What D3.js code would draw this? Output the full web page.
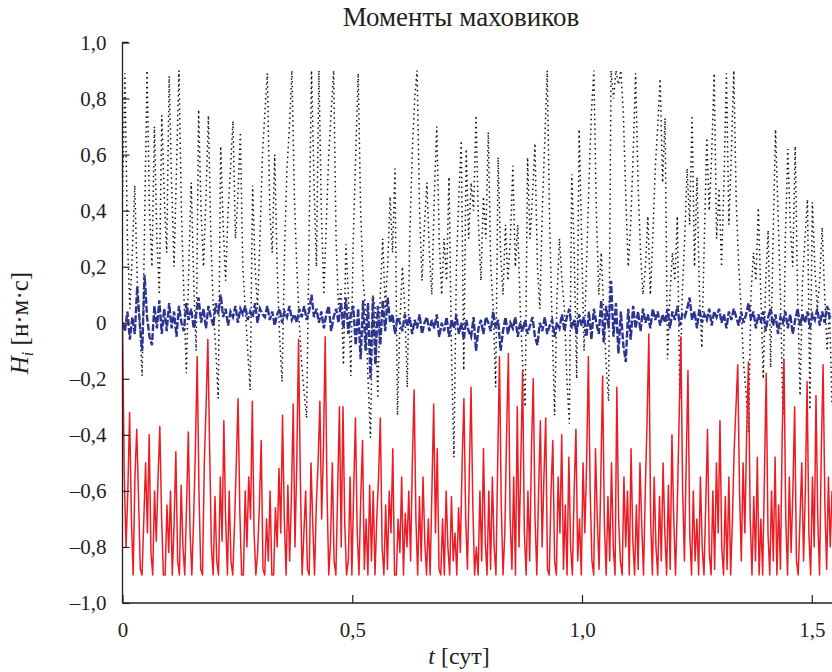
<!DOCTYPE html>
<html>
<head>
<meta charset="utf-8">
<script src="https://cdn.jsdelivr.net/npm/d3@7"></script>
<style>
  html, body { margin: 0; padding: 0; background: #fff; }
  svg { display: block; }
  text { font-family: "Liberation Serif", "Times New Roman", serif; fill: #231f20; }
</style>
</head>
<body>
<svg id="chart" width="832" height="672"></svg>
<script>
// ---- data ----
const title = "Моменты маховиков";
const tEnd = 1.544;               // right edge of time axis, days
const xTicks = [0, 0.5, 1.0, 1.5];
const xTickLabels = ["0", "0,5", "1,0", "1,5"];
const yTicks = [1.0, 0.8, 0.6, 0.4, 0.2, 0, -0.2, -0.4, -0.6, -0.8, -1.0];
const yTickLabels = ["1,0", "0,8", "0,6", "0,4", "0,2", "0", "\u20130,2", "\u20130,4", "\u20130,6", "\u20130,8", "\u20131,0"];

// wheel 1 (black dotted)
const hBlack = [
  0.45, 0.89, 0.3, 0.05, 0.25, 0.49, 0.15, 0.0, -0.19, 0.35,
  0.9, 0.4, 0.2, 0.70, 0.3, 0.1, 0.74, 0.45, 0.25, 0.88,
  0.5, 0.2, 0.55, 0.9, 0.4, 0.1, -0.18, 0.2, 0.5, 0.15,
  -0.1, 0.76, 0.4, 0.2, 0.45, 0.74, 0.3, 0.05, -0.1, -0.27,
  0.63, 0.35, 0.15, 0.4, 0.55, 0.72, 0.3, 0.45, 0.68, 0.2,
  0.05, -0.1, -0.24, 0.49, 0.2, 0.05, 0.3, 0.6, 0.75, 0.89,
  0.4, 0.25, 0.6, 0.2, -0.05, -0.21, 0.25, 0.55, 0.7, 0.9,
  0.45, 0.2, 0.0, -0.15, -0.25, -0.34, 0.3, 0.9, 0.5, 0.2,
  0.9, 0.4, 0.1, 0.35, 0.6, 0.75, 0.9, 0.3, 0.05, 0.12,
  -0.15, 0.28, 0.1, -0.19, 0.3, 0.6, 0.89, 0.4, 0.15, 0.05,
  -0.2, -0.41, 0.1, 0.05, -0.27, 0.1, 0.3, 0.05, 0.2, 0.45,
  0.25, 0.55, -0.33, 0.0, 0.2, 0.05, -0.23, 0.3, 0.6, 0.8,
  0.9, 0.4, 0.15, 0.35, 0.5, 0.25, 0.1, 0.45, 0.7, 0.3,
  0.1, 0.3, 0.15, 0.52, -0.1, -0.48, 0.2, 0.45, 0.65, -0.17,
  0.62, 0.3, 0.5, 0.4, 0.74, 0.35, 0.15, 0.45, 0.3, 0.68,
  0.2, 0.05, -0.23, 0.59, 0.25, 0.1, 0.35, 0.15, 0.3, 0.56,
  0.2, 0.35, 0.05, -0.15, -0.3, 0.59, 0.3, 0.45, 0.64, 0.2,
  0.05, 0.4, 0.65, 0.9, 0.35, 0.0, -0.33, 0.1, 0.3, 0.15,
  0.05, -0.2, -0.36, 0.53, 0.25, -0.2, 0.69, 0.3, -0.1, 0.2,
  0.5, 0.75, 0.9, 0.4, 0.1, 0.25, 0.05, -0.15, -0.28, 0.9,
  0.8, 0.9, 0.85, 0.9, 0.75, 0.45, 0.2, 0.35, 0.6, 0.89,
  0.5, 0.25, 0.1, 0.2, 0.38, 0.1, 0.3, 0.55, 0.7, 0.87,
  0.5, 0.73, -0.13, 0.1, 0.25, 0.15, 0.38, -0.27, 0.1, 0.3,
  0.55, 0.35, 0.74, 0.2, 0.52, 0.1, -0.09, 0.3, 0.66, 0.4,
  0.6, 0.89, 0.3, 0.48, 0.2, 0.5, 0.89, 0.35, 0.6, 0.9,
  0.43, 0.2, 0.05, -0.15, -0.25, -0.39, 0.1, 0.25, 0.15, 0.41,
  0.1, -0.2, 0.15, 0.33, -0.16, 0.3, 0.69, 0.4, 0.1, -0.33,
  0.3, 0.62, 0.35, 0.2, 0.63, 0.1, -0.26, 0.15, 0.3, 0.44,
  -0.31, 0.43, 0.2, 0.05, 0.15, 0.34, 0.1, -0.1, 0.05, -0.29
];

// wheel 2 (blue dashed)
const hBlue = [
  0.0, -0.03, 0.04, -0.06, 0.02, -0.04, 0.13, 0.0, -0.10, 0.17,
  0.02, -0.05, -0.08, 0.06, -0.02, 0.08, -0.04, 0.05, -0.03, 0.07,
  -0.02, 0.04, -0.05, 0.06, 0.0, -0.03, 0.07, 0.01, 0.05, -0.02,
  0.03, 0.09, 0.0, 0.05, -0.02, 0.06, 0.02, -0.01, 0.07, 0.03,
  0.1, 0.02, 0.05, -0.01, 0.04, 0.02, 0.06, 0.0, 0.05, 0.03,
  0.06, 0.01, 0.04, 0.02, 0.07, 0.0, 0.05, 0.03, 0.02, 0.06,
  0.01, 0.04, -0.01, 0.03, 0.05, 0.0, 0.04, 0.02, 0.06, 0.01,
  0.03, 0.0, 0.05, 0.02, 0.06, 0.01, 0.04, 0.1, 0.02, 0.05,
  0.0, 0.04, -0.02, 0.03, 0.06, -0.03, 0.02, 0.05, 0.0, 0.07,
  -0.02, 0.09, -0.04, 0.03, 0.06, -0.08, 0.05, -0.13, 0.08, -0.1,
  0.07, -0.2, 0.09, -0.15, 0.06, -0.08, 0.08, -0.03, 0.09, 0.0,
  0.03, -0.04, 0.02, 0.0, -0.03, 0.03, -0.01, 0.02, -0.04, 0.01,
  -0.02, 0.03, -0.04, 0.0, 0.02, -0.03, 0.01, -0.02, 0.03, -0.05,
  0.0, -0.03, 0.02, -0.05, 0.01, -0.02, 0.03, -0.04, 0.0, -0.06,
  0.01, -0.03, -0.05, 0.02, -0.10, -0.02, 0.01, -0.04, 0.02, 0.0,
  -0.03, 0.04, -0.02, 0.01, -0.10, -0.03, 0.02, -0.04, 0.0, -0.02,
  0.02, -0.05, 0.0, -0.03, 0.01, -0.04, -0.01, 0.02, -0.05, -0.08,
  0.0, -0.03, 0.02, -0.04, -0.01, 0.01, -0.05, 0.0, -0.02, 0.03,
  -0.03, 0.02, 0.05, -0.02, 0.01, -0.04, 0.03, -0.01, 0.02, -0.05,
  0.04, -0.06, 0.05, 0.0, -0.04, 0.08, -0.07, 0.06, -0.02, 0.15,
  -0.05, 0.07, -0.11, 0.04, -0.08, -0.14, 0.05, -0.06, 0.06, -0.02,
  0.04, -0.03, 0.05, 0.0, 0.03, -0.02, 0.05, 0.01, 0.04, -0.01,
  0.03, 0.0, 0.05, -0.02, 0.04, 0.01, 0.06, -0.01, 0.03, 0.02,
  0.05, 0.09, 0.01, 0.04, -0.02, 0.05, 0.0, 0.03, 0.01, 0.05,
  -0.01, 0.04, 0.02, 0.05, 0.0, 0.03, -0.02, 0.04, 0.01, 0.05,
  0.02, -0.01, 0.04, 0.0, 0.03, 0.07, 0.01, 0.04, -0.02, 0.03,
  0.0, 0.04, -0.03, 0.02, 0.05, -0.01, 0.03, -0.04, 0.02, 0.0,
  0.04, -0.02, 0.03, -0.04, 0.01, 0.05, -0.01, 0.03, 0.0, 0.04,
  -0.02, 0.03, 0.01, 0.05, -0.01, 0.04, 0.0, 0.06, 0.02, 0.03
];

// wheel 3 (red solid)
const hRed = [
  0, -0.55, -0.8, -0.6, -0.32, -0.7, -0.9, -0.55, -0.38, -0.62, -0.88, -0.9, -0.7, -0.5, -0.75, -0.40, -0.82, -0.9, -0.6, -0.78,
  -0.55, -0.37, -0.7, -0.9, -0.9, -0.65, -0.82, -0.6, -0.9, -0.72, -0.46, -0.85, -0.9, -0.58, -0.8, -0.9, -0.66, -0.39, -0.75, -0.9,
  -0.7, -0.45, -0.12, -0.6, -0.88, -0.9, -0.5, -0.3, -0.06, -0.45, -0.8, -0.9, -0.62, -0.85, -0.9, -0.55, -0.78, -0.35, -0.7, -0.9,
  -0.6, -0.85, -0.9, -0.72, -0.5, -0.27, -0.68, -0.9, -0.9, -0.6, -0.8, -0.55, -0.7, -0.28, -0.75, -0.9, -0.82, -0.65, -0.42, -0.88,
  -0.9, -0.7, -0.85, -0.6, -0.9, -0.9, -0.66, -0.8, -0.52, -0.75, -0.33, -0.7, -0.9, -0.58, -0.85, -0.62, -0.29, -0.8, -0.5, -0.06,
  -0.55, -0.9, -0.75, -0.6, -0.88, -0.9, -0.5, -0.72, -0.9, -0.65, -0.5, -0.28, -0.7, -0.45, -0.05, -0.6, -0.9, -0.78, -0.5, -0.85,
  -0.9, -0.6, -0.3, -0.8, -0.30, -0.72, -0.9, -0.85, -0.55, -0.9, -0.6, -0.34, -0.75, -0.9, -0.62, -0.42, -0.88, -0.7, -0.9, -0.58,
  -0.85, -0.6, -0.9, -0.7, -0.55, -0.34, -0.8, -0.9, -0.65, -0.88, -0.6, -0.75, -0.45, -0.9, -0.9, -0.7, -0.82, -0.55, -0.9, -0.68,
  -0.8, -0.6, -0.85, -0.5, -0.24, -0.7, -0.9, -0.62, -0.85, -0.55, -0.78, -0.9, -0.7, -0.9, -0.6, -0.29, -0.75, -0.45, -0.88, -0.9,
  -0.7, -0.9, -0.6, -0.8, -0.9, -0.62, -0.85, -0.75, -0.9, -0.66, -0.82, -0.5, -0.27, -0.7, -0.88, -0.55, -0.23, -0.65, -0.9, -0.8,
  -0.9, -0.6, -0.85, -0.45, -0.78, -0.9, -0.6, -0.88, -0.55, -0.8, -0.9, -0.5, -0.12, -0.65, -0.9, -0.75, -0.4, -0.11, -0.7, -0.88,
  -0.55, -0.9, -0.3, -0.8, -0.5, -0.17, -0.75, -0.9, -0.6, -0.85, -0.45, -0.2, -0.7, -0.9, -0.6, -0.35, -0.8, -0.55, -0.34, -0.88,
  -0.9, -0.6, -0.42, -0.85, -0.9, -0.55, -0.75, -0.4, -0.88, -0.65, -0.9, -0.48, -0.8, -0.9, -0.6, -0.38, -0.85, -0.7, -0.9, -0.5,
  -0.75, -0.5, -0.12, -0.6, -0.85, -0.9, -0.45, -0.7, -0.88, -0.55, -0.19, -0.72, -0.9, -0.62, -0.85, -0.5, -0.8, -0.9, -0.23, -0.7,
  -0.85, -0.9, -0.55, -0.8, -0.6, -0.9, -0.45, -0.78, -0.9, -0.65, -0.88, -0.5, -0.72, -0.9, -0.6, -0.35, -0.04, -0.7, -0.9, -0.55,
  -0.8, -0.9, -0.62, -0.85, -0.5, -0.75, -0.9, -0.58, -0.88, -0.4, -0.7, -0.9, -0.65, -0.35, -0.05, -0.6, -0.85, -0.5, -0.17, -0.75,
  -0.9, -0.6, -0.85, -0.7, -0.9, -0.55, -0.8, -0.9, -0.65, -0.38, -0.82, -0.9, -0.6, -0.88, -0.5, -0.75, -0.35, -0.8, -0.9, -0.62,
  -0.88, -0.55, -0.9, -0.7, -0.45, -0.3, -0.15, -0.6, -0.85, -0.5, -0.75, -0.4, -0.14, -0.7, -0.9, -0.62, -0.85, -0.48, -0.9, -0.7,
  -0.9, -0.55, -0.18, -0.75, -0.9, -0.6, -0.85, -0.48, -0.9, -0.65, -0.88, -0.4, -0.13, -0.7, -0.9, -0.55, -0.82, -0.6, -0.3, -0.85,
  -0.9, -0.7, -0.5, -0.85, -0.6, -0.21, -0.75, -0.9, -0.55, -0.8, -0.26, -0.7, -0.9, -0.45, -0.15, -0.65, -0.88, -0.55, -0.8, -0.6
];

// ---- drawing ----
const svg = d3.select("#chart");
const x = d3.scaleLinear().domain([0, tEnd]).range([122.5, 832]);
const y = d3.scaleLinear().domain([-1, 1]).range([603, 42.5]);

svg.append("defs").append("clipPath").attr("id", "plot")
  .append("rect").attr("x", 122.5).attr("y", 42).attr("width", 710).attr("height", 561.5);

function series(values) {
  const step = tEnd / (values.length - 1);
  return values.map((v, i) => [i * step, v]);
}
const line = d3.line().x(d => x(d[0])).y(d => y(d[1]));

const g = svg.append("g").attr("clip-path", "url(#plot)");
g.append("path").datum(series(hBlack)).attr("d", line)
  .attr("fill", "none").attr("stroke", "#111").attr("stroke-width", 1.5)
  .attr("stroke-dasharray", "1.5,3.4");
g.append("path").datum(series(hRed)).attr("d", line)
  .attr("fill", "none").attr("stroke", "#ed1c24").attr("stroke-width", 1.5)
  .attr("stroke-linejoin", "round");
g.append("path").datum(series(hBlue)).attr("d", line)
  .attr("fill", "none").attr("stroke", "#2b3591").attr("stroke-width", 2.4)
  .attr("stroke-dasharray", "7,2");

const serif = "'Liberation Serif', 'Times New Roman', serif";

// axes
const yAxis = d3.axisLeft(y).tickValues(yTicks)
  .tickFormat((d, i) => yTickLabels[i]).tickSize(-7).tickPadding(16);
const ya = svg.append("g").attr("transform", "translate(122.5,0)").call(yAxis)
  .attr("font-family", serif);
ya.select(".domain").attr("d", "M6,42.5H0V603").attr("stroke", "#231f20").attr("stroke-width", 1.3);
ya.selectAll(".tick line").attr("stroke", "#231f20").attr("stroke-width", 1.2);
ya.selectAll(".tick text").style("font-family", serif)
  .style("font-size", "21px").attr("fill", "#231f20");

const xAxis = d3.axisBottom(x).tickValues(xTicks)
  .tickFormat((d, i) => xTickLabels[i]).tickSize(-8).tickPadding(19);
const xa = svg.append("g").attr("transform", "translate(0,603)").call(xAxis)
  .attr("font-family", serif);
xa.select(".domain").attr("d", "M122.5,0H832").attr("stroke", "#231f20").attr("stroke-width", 1.5);
xa.selectAll(".tick line").attr("stroke", "#231f20").attr("stroke-width", 1.2);
xa.selectAll(".tick text").style("font-family", serif)
  .style("font-size", "21px").attr("fill", "#231f20");

// title
svg.append("text").attr("x", 461).attr("y", 26).attr("text-anchor", "middle")
  .style("font-family", serif).style("font-size", "27px").text(title);

// x label
const xl = svg.append("text").attr("x", 459).attr("y", 664).attr("text-anchor", "middle")
  .style("font-family", serif).style("font-size", "24px");
xl.append("tspan").style("font-style", "italic").text("t");
xl.append("tspan").text(" [сут]");

// y label
const yl = svg.append("text").attr("transform", "translate(28,323) rotate(-90)")
  .attr("text-anchor", "middle").style("font-family", serif).style("font-size", "25px");
yl.append("tspan").style("font-style", "italic").text("H");
yl.append("tspan").style("font-style", "italic").style("font-size", "16px").attr("dy", 5).text("i");
yl.append("tspan").attr("dy", -5).text(" [н·м·с]");
</script>
</body>
</html>
